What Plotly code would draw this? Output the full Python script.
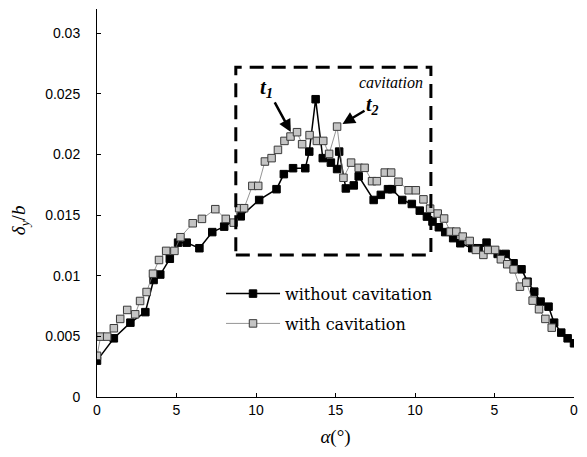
import plotly.graph_objects as go

# alpha position along the sweep (0 -> 15 -> 0 shown as 0..30)
alpha_no_cav = [0.0, 1.06, 2.1, 3.04, 3.56, 3.98, 4.58, 5.1, 5.64, 6.44, 7.25, 8.0,
                9.04, 10.2, 11.29, 11.75, 12.33, 13.1, 13.35, 13.75, 14.2, 14.71,
                15.1, 15.23, 15.65, 16.15, 16.46, 17.4, 17.85, 18.3, 18.55, 19.2,
                19.8, 20.3, 20.75, 21.1, 21.5, 21.9, 22.4, 22.85, 23.6, 24.0, 24.5,
                25.2, 25.7, 26.2, 26.7, 27.08, 27.5, 27.9, 28.4, 28.75, 29.2, 29.6, 30.0]
delta_no_cav = [0.0030, 0.00484, 0.00613, 0.0070, 0.00965, 0.0101, 0.0114, 0.01273,
                0.01273, 0.01227, 0.0136, 0.01405, 0.0149, 0.01625, 0.01714, 0.01838,
                0.01887, 0.01887, 0.02024, 0.02456, 0.0197, 0.01933, 0.0188, 0.02024,
                0.0172, 0.01745, 0.0182, 0.01625, 0.01667, 0.01714, 0.01714, 0.01625,
                0.01592, 0.01537, 0.01488, 0.01447, 0.0140, 0.0136, 0.0131, 0.01268,
                0.01227, 0.01227, 0.01273, 0.0118, 0.0118, 0.01103, 0.01053, 0.00951,
                0.00869, 0.00787, 0.00745, 0.00613, 0.00531, 0.00484, 0.00443]

alpha_cav = [0.0, 0.23, 0.64, 1.06, 1.46, 1.9, 2.4, 2.71, 3.12, 3.52, 3.9, 4.35, 4.87,
             5.25, 6.02, 6.6, 7.44, 8.1, 8.6, 8.94, 9.25, 9.77, 10.14, 10.56, 10.98,
             11.38, 11.79, 12.17, 12.58, 12.9, 13.37, 13.83, 14.23, 14.6, 15.1, 15.5,
             15.98, 16.46, 16.83, 17.3, 17.6, 18.1, 18.5, 18.96, 19.6, 20.05, 20.53,
             20.95, 21.43, 21.83, 22.23, 22.6, 23.0, 23.44, 23.83, 24.3, 24.6, 25.04,
             25.4, 25.8, 26.2, 26.6, 27.0, 27.4, 27.8, 28.2, 28.6]
delta_cav = [0.0034, 0.00498, 0.00498, 0.00567, 0.00644, 0.00718, 0.00682, 0.00792,
             0.00866, 0.01017, 0.0113, 0.01205, 0.01205, 0.01318, 0.01433, 0.01469,
             0.01549, 0.01469, 0.01438, 0.01557, 0.01557, 0.01741, 0.01741, 0.01942,
             0.0197, 0.02038, 0.02112, 0.02148, 0.02184, 0.02085, 0.0216, 0.02112,
             0.02112, 0.02005, 0.0223, 0.01808, 0.01933, 0.0189, 0.0189, 0.0178,
             0.0178, 0.01851, 0.01851, 0.01775, 0.01705, 0.01705, 0.0163, 0.01553,
             0.01513, 0.01472, 0.01364, 0.01364, 0.01323, 0.01287, 0.01213, 0.01172,
             0.01213, 0.01213, 0.01136, 0.01095, 0.01053, 0.0091, 0.00943, 0.00795,
             0.00724, 0.00644, 0.00572]

x_tickvals = [0, 5, 10, 15, 20, 25, 30]
x_ticktext = ["0", "5", "10", "15", "10", "5", "0"]
y_tickvals = [0, 0.005, 0.01, 0.015, 0.02, 0.025, 0.03]
y_ticktext = ["0", "0.005", "0.01", "0.015", "0.02", "0.025", "0.03"]

serif = "Liberation Serif"
sans = "Liberation Sans"

fig = go.Figure()

fig.add_trace(go.Scatter(
    x=alpha_no_cav, y=delta_no_cav, mode="lines+markers",
    name="without cavitation", legendgroup="a",
    line=dict(color="black", width=1.5),
    marker=dict(symbol="square", size=7.5, color="black",
                line=dict(color="black", width=1))))

fig.add_trace(go.Scatter(
    x=alpha_cav, y=delta_cav, mode="lines+markers",
    name="with cavitation", legendgroup="b",
    line=dict(color="#7a7a7a", width=0.8),
    marker=dict(symbol="square", size=7.5, color="#c4c4c4",
                line=dict(color="#3a3a3a", width=1))))

# dashed box around the cavitation region
fig.add_shape(type="rect", x0=8.73, x1=21.0, y0=0.01172, y1=0.0272,
              xref="x", yref="y", line=dict(color="black", width=3, dash="14px,8px"))

fig.add_annotation(x=20.6, y=0.0259, xref="x", yref="y", text="<i>cavitation</i>",
                   showarrow=False, xanchor="right",
                   font=dict(family=serif, size=16, color="black"))
fig.add_annotation(x=12.19, y=0.02186, xref="x", yref="y",
                   text="<b><i>t<sub>1</sub></i></b>", showarrow=True,
                   arrowhead=2, arrowsize=1, arrowwidth=2.5, arrowcolor="black",
                   ax=-24, ay=-44, font=dict(family=serif, size=21, color="black"))
fig.add_annotation(x=15.44, y=0.02252, xref="x", yref="y",
                   text="<b><i>t<sub>2</sub></i></b>", showarrow=True,
                   arrowhead=2, arrowsize=1, arrowwidth=2.5, arrowcolor="black",
                   ax=30, ay=-18, font=dict(family=serif, size=20, color="black"))

# y-axis title placed as an annotation (sits a bit below the plot centre)
fig.add_annotation(x=-0.16, y=0.455, xref="paper", yref="paper",
                   xanchor="center", yanchor="middle",
                   text="<i>δ<sub>y</sub></i>/<i>b</i>", textangle=-90,
                   showarrow=False, font=dict(family=serif, size=19, color="black"))

fig.update_layout(
    width=587, height=457,
    margin=dict(l=97, r=10, t=9, b=60),
    plot_bgcolor="white", paper_bgcolor="white",
    showlegend=True,
    legend=dict(x=0.26, y=0.31, xanchor="left", yanchor="top",
                bgcolor="rgba(0,0,0,0)", tracegroupgap=6, itemwidth=54,
                font=dict(family="DejaVu Serif", size=16, color="black")),
    xaxis=dict(range=[0, 30], tickvals=x_tickvals, ticktext=x_ticktext,
               ticks="inside", ticklen=4, tickcolor="black",
               showline=True, linecolor="black", linewidth=1,
               showgrid=False, zeroline=False,
               tickfont=dict(family=sans, size=14, color="black"),
               title=dict(text="<i>α</i>(°)", standoff=12,
                          font=dict(family=serif, size=19, color="black"))),
    yaxis=dict(range=[0, 0.032], tickvals=y_tickvals, ticktext=y_ticktext,
               ticks="inside", ticklen=4, tickcolor="black", ticklabelstandoff=13,
               showline=True, linecolor="black", linewidth=1,
               showgrid=False, zeroline=False,
               tickfont=dict(family=sans, size=14, color="black")),
)

# drop the default 8px page margin so the figure fills the window exactly
fig.write_html("out.html", config={"displayModeBar": False},
               post_script="document.body.style.margin='0';document.body.style.overflow='hidden';")
